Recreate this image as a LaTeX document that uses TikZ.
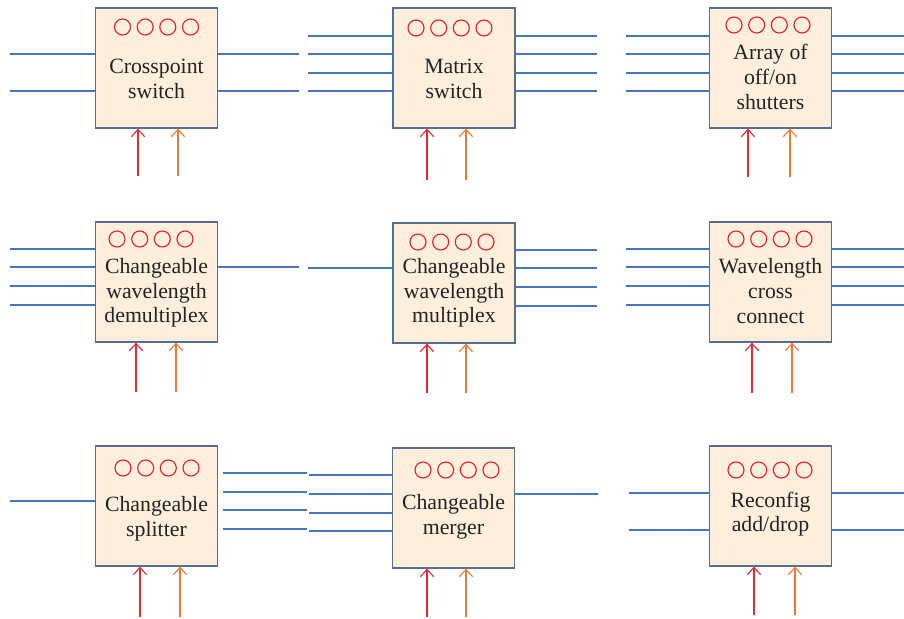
\documentclass[tikz,border=0pt]{standalone}
\usepackage{fontspec}
\setmainfont{Liberation Serif}
\usetikzlibrary{arrows.meta}
\usetikzlibrary{positioning}
\definecolor{boxfill}{RGB}{253,239,219}
\definecolor{boxedge}{RGB}{84,110,148}
\definecolor{fibreblue}{RGB}{70,118,190}
\definecolor{lampred}{RGB}{235,30,40}
\definecolor{ctlred}{RGB}{232,40,50}
\definecolor{ctlorange}{RGB}{236,120,50}
\definecolor{ink}{RGB}{35,35,35}
\tikzset {
    blok/.style = {draw=boxedge, fill=boxfill, line width=0.9pt, minimum width=3.05cm, minimum height=3cm, inner sep=0pt},
    lamp/.style = {circle, draw=lampred, line width=0.8pt, minimum size=0.4cm, inner sep=0pt},
    fibre/.style = {draw=fibreblue, line width=0.9pt},
    ctlA/.style = {draw=ctlred, line width=0.8pt, -{Straight Barb[length=1.8mm,width=3.3mm]}},
    ctlB/.style = {draw=ctlorange, line width=0.8pt, -{Straight Barb[length=1.8mm,width=3.3mm]}},
    lbl/.style = {align=center, text=ink, inner sep=0pt, font=\fontsize{15.5}{17.5}\selectfont}
}

\begin{document}
\begin{tikzpicture}[x=0.025cm, y=-0.025cm]
	\useasboundingbox (0,0) rectangle (904,619);
	% row 1
	\node (a) [blok] at (156.5,68) {};
	\node (b) [blok] at (454,68) {};
	\node (c) [blok] at (770.5,68) {};
	\node (a-t) [lbl] at (156.5,79) {Crosspoint\\switch};
	\node (b-t) [lbl] at (454,79) {Matrix\\switch};
	\node (c-t) [lbl] at (770.5,77) {Array of\\off/on\\shutters};
	% row 2
	\node (d) [blok] at (156.5,282) {};
	\node (e) [blok] at (454,283) {};
	\node (f) [blok] at (770.5,282) {};
	\node (d-t) [lbl] at (156.5,293) {Changeable\\wavelength\\demultiplex};
	\node (e-t) [lbl] at (454,293) {Changeable\\wavelength\\multiplex};
	\node (f-t) [lbl] at (770.5,291) {Wavelength\\cross\\connect};
	% row 3
	\node (g) [blok] at (156.5,506) {};
	\node (h) [blok] at (453.5,508) {};
	\node (i) [blok] at (770.5,506) {};
	\node (g-t) [lbl] at (156.5,519) {Changeable\\splitter};
	\node (h-t) [lbl] at (453.5,517) {Changeable\\merger};
	\node (i-t) [lbl] at (770.5,514) {Reconfig\\add/drop};

	% indicator lamps
	\foreach \dx [count=\k] in {-34,-11.3,11.3,34} {
		\node (a-l\k) [lamp] at ({156.5+\dx},27) {};
		\node (b-l\k) [lamp] at ({450+\dx},28) {};
		\node (c-l\k) [lamp] at ({768+\dx},25) {};
		\node (d-l\k) [lamp] at ({151+\dx},239) {};
		\node (e-l\k) [lamp] at ({452+\dx},242) {};
		\node (f-l\k) [lamp] at ({770+\dx},239) {};
		\node (g-l\k) [lamp] at ({157+\dx},468) {};
		\node (h-l\k) [lamp] at ({457+\dx},470) {};
		\node (i-l\k) [lamp] at ({770+\dx},470) {};
	}

	% fibres, row 1
	\foreach \y [count=\k] in {54,91} {
		\coordinate (a-in\k) at (10,\y);
		\coordinate (a-out\k) at (299,\y);
		\draw[fibre] (a-in\k) -- (a-in\k -| a.west);
		\draw[fibre] (a.east |- a-out\k) -- (a-out\k);
	}
	\foreach \y [count=\k] in {36,54,73,91} {
		\coordinate (b-in\k) at (308,\y);
		\coordinate (b-out\k) at (597,\y);
		\coordinate (c-in\k) at (626,\y);
		\coordinate (c-out\k) at (904,\y);
		\draw[fibre] (b-in\k) -- (b-in\k -| b.west);
		\draw[fibre] (b.east |- b-out\k) -- (b-out\k);
		\draw[fibre] (c-in\k) -- (c-in\k -| c.west);
		\draw[fibre] (c.east |- c-out\k) -- (c-out\k);
	}
	% fibres, row 2
	\foreach \y [count=\k] in {249,267,286,305} {
		\coordinate (d-in\k) at (10,\y);
		\coordinate (f-in\k) at (626,\y);
		\coordinate (f-out\k) at (904,\y);
		\draw[fibre] (d-in\k) -- (d-in\k -| d.west);
		\draw[fibre] (f-in\k) -- (f-in\k -| f.west);
		\draw[fibre] (f.east |- f-out\k) -- (f-out\k);
	}
	\foreach \y [count=\k] in {250,268,287,306} {
		\coordinate (e-out\k) at (597,\y);
		\draw[fibre] (e.east |- e-out\k) -- (e-out\k);
	}
	\coordinate (d-out1) at (299,267);
	\draw[fibre] (d.east |- d-out1) -- (d-out1);
	\coordinate (e-in1) at (308,268);
	\draw[fibre] (e-in1) -- (e-in1 -| e.west);
	% fibres, row 3
	\coordinate (g-in1) at (10,501);
	\draw[fibre] (g-in1) -- (g-in1 -| g.west);
	\foreach \y [count=\k] in {473,492,510,529} {
		\coordinate (g-s\k) at (223,\y);
		\coordinate (g-e\k) at (307,\y);
		\draw[fibre] (g-s\k) -- (g-e\k);
	}
	\foreach \y [count=\k] in {475,494,513,531} {
		\coordinate (h-in\k) at (309,\y);
		\draw[fibre] (h-in\k) -- (h-in\k -| h.west);
	}
	\coordinate (h-out1) at (598,494);
	\draw[fibre] (h.east |- h-out1) -- (h-out1);
	\foreach \y [count=\k] in {493,530} {
		\coordinate (i-in\k) at (629,\y);
		\coordinate (i-out\k) at (904,\y);
		\draw[fibre] (i-in\k) -- (i-in\k -| i.west);
		\draw[fibre] (i.east |- i-out\k) -- (i-out\k);
	}

	% control inputs
	\coordinate (a-r) at (138,176);  \coordinate (a-o) at (178,176);
	\coordinate (b-r) at (427,180);  \coordinate (b-o) at (466,180);
	\coordinate (c-r) at (748,177);  \coordinate (c-o) at (790,177);
	\coordinate (d-r) at (136,392);  \coordinate (d-o) at (176,392);
	\coordinate (e-r) at (427,393);  \coordinate (e-o) at (466,393);
	\coordinate (f-r) at (752,393);  \coordinate (f-o) at (792,393);
	\coordinate (g-r) at (140,617);  \coordinate (g-o) at (180,617);
	\coordinate (h-r) at (427,617);  \coordinate (h-o) at (466,617);
	\coordinate (i-r) at (754,615);  \coordinate (i-o) at (795,615);
	\foreach \n in {a,b,c,d,e,f,g,h,i} {
		\draw[ctlA] (\n-r) -- (\n-r |- \n.south);
		\draw[ctlB] (\n-o) -- (\n-o |- \n.south);
	}
\end{tikzpicture}
\end{document}
